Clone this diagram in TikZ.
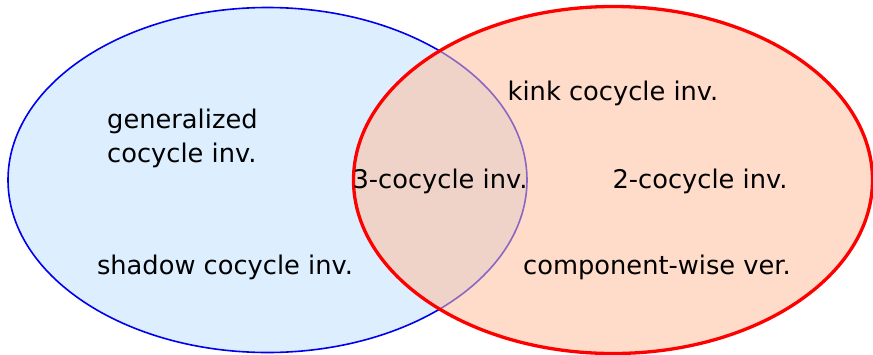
\documentclass[tikz,border=0pt]{standalone}
\usepackage{fontspec}
\setmainfont{DejaVu Sans}
\definecolor{leftfill}{RGB}{221,238,255}
\definecolor{rightfill}{RGB}{255,189,157}
\definecolor{leftline}{RGB}{0,0,238}
\definecolor{rightline}{RGB}{255,0,0}
\tikzset{
  lbl/.style={anchor=base, inner sep=0pt, font=\fontsize{25.7}{34}\selectfont, text=black},
}
\begin{document}
\begin{tikzpicture}[x=1pt,y=-1pt]
\useasboundingbox (0,0) rectangle (873,354);
\draw[leftline, line width=1.6pt, fill=leftfill] (267.5,180) ellipse [x radius=259.5, y radius=172.5];
\fill[rightfill, opacity=0.55] (613,180) ellipse [x radius=259.5, y radius=173.5];
\draw[rightline, line width=3.3pt] (613,180) ellipse [x radius=259.5, y radius=173.5];
\node[lbl, anchor=base west, align=left] (gen) at (107,162) {generalized\\cocycle inv.};
\node[lbl] (shadow) at (225,274) {shadow cocycle inv.};
\node[lbl] (three) at (440,188) {3-cocycle inv.};
\node[lbl] (kink) at (613,100) {kink cocycle inv.};
\node[lbl] (two) at (700,188) {2-cocycle inv.};
\node[lbl] (comp) at (657,274) {component-wise ver.};
\end{tikzpicture}
\end{document}
